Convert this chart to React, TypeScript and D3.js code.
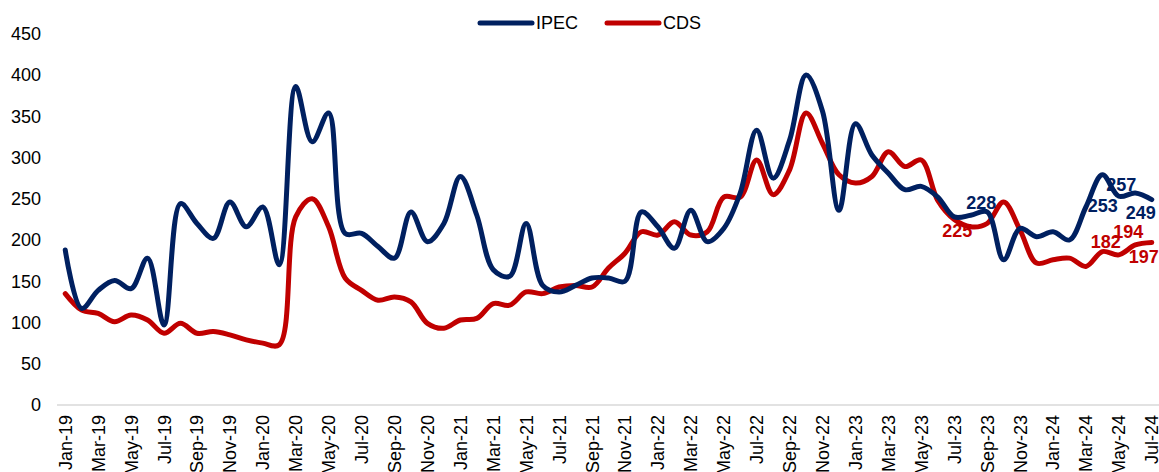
import React from "react";
import * as d3 from "d3";

const months = ["Jan", "Feb", "Mar", "Apr", "May", "Jun", "Jul", "Aug", "Sep", "Oct", "Nov", "Dec"];
const years = ["19", "20", "21", "22", "23", "24"];
const categories: string[] = [];
years.forEach((y) => months.forEach((m) => categories.push(`${m}-${y}`)));
categories.splice(67);

const ipec = [
  188, 117, 139, 151, 141, 178, 97, 244, 220, 202, 246, 216,
  240, 170, 386, 319, 354, 208, 208, 192, 178, 234, 198, 220,
  277, 230, 164, 156, 220, 145, 137, 145, 154, 154, 150, 234,
  216, 190, 236, 198, 214, 257, 333, 275, 321, 400, 356, 236,
  341, 303, 281, 261, 265, 252, 228, 230, 234, 176, 214, 204,
  210, 200, 240, 279, 253, 257, 249,
];
const cds = [
  135, 115, 111, 101, 109, 103, 87, 99, 87, 89, 85, 79,
  75, 73, 228, 250, 216, 154, 139, 127, 131, 125, 99, 93,
  103, 105, 123, 121, 137, 135, 143, 145, 143, 166, 184, 210,
  206, 222, 206, 210, 252, 252, 297, 255, 285, 354, 317, 279,
  269, 277, 307, 289, 297, 248, 225, 216, 220, 246, 212, 172,
  176, 178, 168, 186, 182, 194, 197,
];
const yTicks = [0, 50, 100, 150, 200, 250, 300, 350, 400, 450];

// labelled points: [index, dx, dy]
const ipecLabels: [number, number, number][] = [[54, 27, -14], [64, -16, 9], [65, -14, -8], [66, -11, 13]];
const cdsLabels: [number, number, number][] = [[54, 3, 11], [64, -13, -13], [65, -7, -13], [66, -8, 14]];

const BLUE = "#002060";
const RED = "#C00000";
const W = 1159;
const H = 472;
const left = 57;
const right = 1160;
const top = 33.75;
const bottom = 405;
const font = "'Liberation Sans', Arial, sans-serif";

export default function App() {
  const x = d3.scaleBand<string>().domain(categories).range([left, right]);
  const cx = (i: number) => (x(categories[i]) as number) + x.bandwidth() / 2;
  const y = d3.scaleLinear().domain([0, 450]).range([bottom, top]);
  const line = d3
    .line<number>()
    .x((_, i) => cx(i))
    .y((d) => y(d))
    .curve(d3.curveCatmullRom.alpha(0.5));

  return (
    <svg width={W} height={H} style={{ position: "absolute", left: 0, top: 0, background: "#fff" }}>
      {yTicks.map((t) => (
        <text
          key={t}
          x={41}
          y={y(t)}
          textAnchor="end"
          dy="0.36em"
          fontFamily={font}
          fontSize={18}
          fill="#000"
        >
          {t}
        </text>
      ))}
      <line x1={left} x2={W} y1={bottom} y2={bottom} stroke="#d9d9d9" strokeWidth={1.5} />
      {categories.map((c, i) =>
        i % 2 === 0 ? (
          <text
            key={c}
            transform={`translate(${cx(i) + 6.5},${bottom + 10}) rotate(-90)`}
            textAnchor="end"
            fontFamily={font}
            fontSize={18}
            fill="#000"
          >
            {c}
          </text>
        ) : null
      )}
      <path d={line(cds) || ""} fill="none" stroke={RED} strokeWidth={5} strokeLinejoin="round" strokeLinecap="round" />
      <path d={line(ipec) || ""} fill="none" stroke={BLUE} strokeWidth={5} strokeLinejoin="round" strokeLinecap="round" />
      {ipecLabels.map(([i, dx, dy]) => (
        <text
          key={"i" + i}
          x={cx(i) + dx}
          y={y(ipec[i]) + dy}
          dy="0.36em"
          textAnchor="middle"
          fontFamily={font}
          fontWeight="bold"
          fontSize={18}
          fill={BLUE}
        >
          {ipec[i]}
        </text>
      ))}
      {cdsLabels.map(([i, dx, dy]) => (
        <text
          key={"c" + i}
          x={cx(i) + dx}
          y={y(cds[i]) + dy}
          dy="0.36em"
          textAnchor="middle"
          fontFamily={font}
          fontWeight="bold"
          fontSize={18}
          fill={RED}
        >
          {cds[i]}
        </text>
      ))}
      <g fontFamily={font} fontSize={18} fill="#000">
        <line x1={480} x2={532} y1={23} y2={23} stroke={BLUE} strokeWidth={5} strokeLinecap="round" />
        <text x={536} y={23} dy="0.36em">IPEC</text>
        <line x1={607} x2={659} y1={23} y2={23} stroke={RED} strokeWidth={5} strokeLinecap="round" />
        <text x={663} y={23} dy="0.36em">CDS</text>
      </g>
    </svg>
  );
}
